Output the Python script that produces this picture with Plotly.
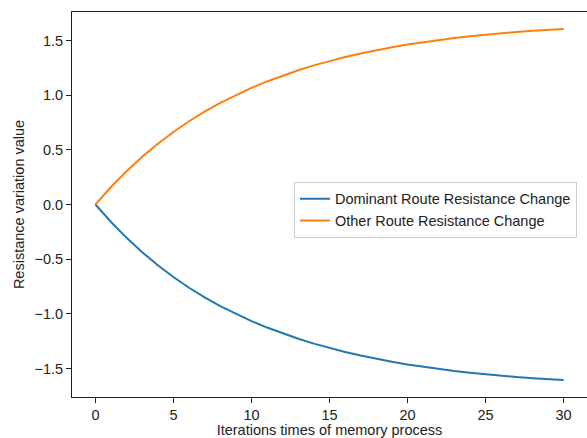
import plotly.graph_objects as go

iterations = list(range(0, 31))
other_route = [0.000, 0.160, 0.305, 0.436, 0.555, 0.663, 0.761, 0.849, 0.929, 1.001,
               1.066, 1.125, 1.179, 1.228, 1.272, 1.312, 1.348, 1.381, 1.411, 1.438,
               1.462, 1.484, 1.504, 1.522, 1.538, 1.553, 1.566, 1.578, 1.588, 1.597, 1.604]
dominant_route = [-0.000, -0.160, -0.305, -0.436, -0.555, -0.663, -0.761, -0.849, -0.929, -1.001,
                  -1.066, -1.125, -1.179, -1.228, -1.272, -1.312, -1.348, -1.381, -1.411, -1.438,
                  -1.462, -1.484, -1.504, -1.522, -1.538, -1.553, -1.566, -1.578, -1.588, -1.597, -1.604]
x_ticks = [0, 5, 10, 15, 20, 25, 30]
y_ticks = [-1.5, -1.0, -0.5, 0.0, 0.5, 1.0, 1.5]

FONT = "Liberation Sans, Arial, sans-serif"
FS = 14.5

fig = go.Figure()
fig.add_trace(go.Scatter(x=iterations, y=dominant_route, mode="lines",
                         name="Dominant Route Resistance Change",
                         line=dict(color="#1f77b4", width=2)))
fig.add_trace(go.Scatter(x=iterations, y=other_route, mode="lines",
                         name="Other Route Resistance Change",
                         line=dict(color="#ff7f0e", width=2)))

axis_common = dict(showgrid=False, zeroline=False, showline=True, linecolor="#222",
                   linewidth=1, mirror=True, ticks="outside", ticklen=5, tickwidth=1,
                   tickcolor="#222", automargin=False,
                   tickfont=dict(family=FONT, size=FS, color="#222"))

fig.update_layout(
    width=587, height=438,
    margin=dict(l=72, r=0, t=12, b=41, autoexpand=False),
    paper_bgcolor="white", plot_bgcolor="white",
    font=dict(family=FONT, size=FS, color="#222"),
    xaxis=dict(range=[-1.5, 31.5], tickvals=x_ticks, ticktext=[str(v) for v in x_ticks],
               title=dict(text="Iterations times of memory process",
                          font=dict(family=FONT, size=FS, color="#222"), standoff=2),
               **axis_common),
    yaxis=dict(range=[-1.76, 1.76], tickvals=y_ticks,
               ticktext=[f"{v:.1f}".replace("-", "\u2212") for v in y_ticks],
               title=dict(text="Resistance variation value",
                          font=dict(family=FONT, size=FS, color="#222"), standoff=6),
               **axis_common),
    legend=dict(x=0.431, y=0.559, xanchor="left", yanchor="top",
                bgcolor="rgba(255,255,255,0.9)", bordercolor="#cccccc", borderwidth=1,
                font=dict(family=FONT, size=FS, color="#222"), itemwidth=30,
                tracegroupgap=0),
    showlegend=True,
    hovermode=False,
)

fig.write_html("out.html", config={"displayModeBar": False},
               post_script="document.body.style.margin='0';document.body.style.padding='0';")
